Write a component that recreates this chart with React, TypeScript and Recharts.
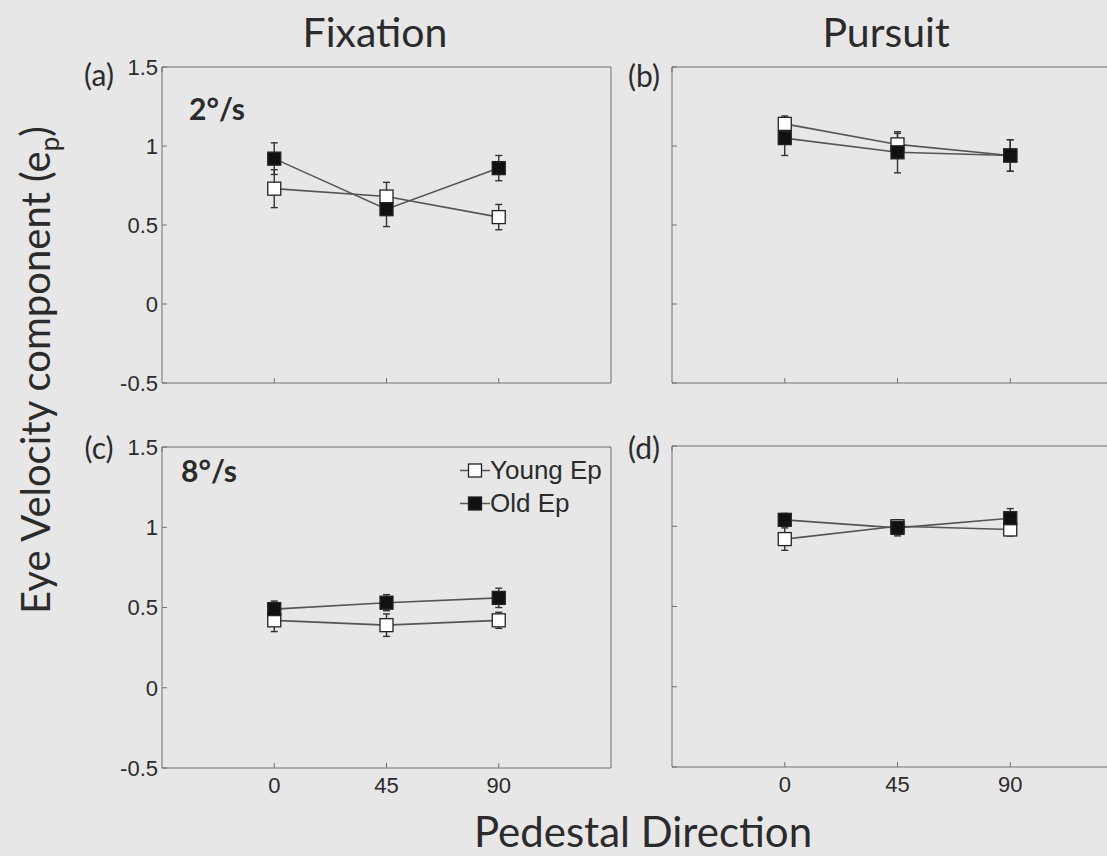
import React from 'react';
import { LineChart, Line, XAxis, YAxis, ErrorBar, Legend } from 'recharts';

// ---- data ----
const directions = [0, 45, 90];
const xTicks = [0, 45, 90];
const yTicks = [-0.5, 0, 0.5, 1, 1.5];
const seriesNames = ['Young Ep', 'Old Ep'];

// (a) Fixation, 2°/s
const fix2Young = [0.73, 0.68, 0.55];
const fix2YoungErr = [0.12, 0.09, 0.08];
const fix2Old = [0.92, 0.6, 0.86];
const fix2OldErr = [0.1, 0.11, 0.08];

// (b) Pursuit, 2°/s
const pur2Young = [1.14, 1.01, 0.94];
const pur2YoungErr = [0.05, 0.07, 0.1];
const pur2Old = [1.05, 0.96, 0.94];
const pur2OldErr = [0.11, 0.13, 0.1];

// (c) Fixation, 8°/s
const fix8Young = [0.42, 0.39, 0.42];
const fix8YoungErr = [0.07, 0.07, 0.05];
const fix8Old = [0.49, 0.53, 0.56];
const fix8OldErr = [0.05, 0.05, 0.06];

// (d) Pursuit, 8°/s
const pur8Young = [0.92, 1.0, 0.98];
const pur8YoungErr = [0.07, 0.04, 0.04];
const pur8Old = [1.04, 0.99, 1.05];
const pur8OldErr = [0.04, 0.05, 0.06];

// ---- style ----
const BG = '#e7e7e7';
const AXIS = '#707070';
const TEXT = '#2b2b2b';
const LINE = '#555555';
const ARIAL = '"Liberation Sans", Arial, sans-serif';
const TITLE_FONT = 'Lato, "Open Sans", sans-serif';
const markerFill: Record<string, string> = { 'Young Ep': '#ffffff', 'Old Ep': '#111111' };

type Row = { dir: number; young: number; youngErr: number; old: number; oldErr: number };

function buildRows(y: number[], ye: number[], o: number[], oe: number[]): Row[] {
  return directions.map((d, i) => ({ dir: d, young: y[i], youngErr: ye[i], old: o[i], oldErr: oe[i] }));
}

const makeSquare = (fill: string) => (p: any) => {
  if (p.cx == null || p.cy == null) return <g key={`n-${fill}-${p.index}`} />;
  return (
    <rect
      key={`s-${fill}-${p.index}`}
      x={p.cx - 6.5}
      y={p.cy - 6.5}
      width={13}
      height={13}
      fill={fill}
      stroke="#222"
      strokeWidth={1.3}
    />
  );
};

function LegendContent(props: any) {
  const items = [...(props.payload || [])].sort(
    (a: any, b: any) => seriesNames.indexOf(a.value) - seriesNames.indexOf(b.value)
  );
  return (
    <div>
      {items.map((it: any) => (
        <div key={it.value} style={{ display: 'flex', alignItems: 'center', height: 33 }}>
          <svg width={30} height={33}>
            <line x1={0} x2={30} y1={16.5} y2={16.5} stroke={LINE} strokeWidth={1.5} />
            <rect x={8.5} y={10} width={13} height={13} fill={markerFill[it.value]} stroke="#222" strokeWidth={1.3} />
          </svg>
          <span style={{ fontFamily: ARIAL, fontSize: 26, color: TEXT, lineHeight: '33px' }}>{it.value}</span>
        </div>
      ))}
    </div>
  );
}

type PanelProps = {
  left: number;
  top: number;
  plotW: number;
  plotH: number;
  rows: Row[];
  showY: boolean;
  showX: boolean;
  legend?: boolean;
};

const M_TOP = 20;
const M_RIGHT = 10;
const Y_W = 60;
const X_H = 34;

// left/top are the page coordinates of the plot area's top-left corner
function Panel({ left, top, plotW, plotH, rows, showY, showX, legend }: PanelProps) {
  const width = Y_W + plotW + 1 + M_RIGHT;
  const height = M_TOP + 1 + plotH + X_H;
  const tickStyle = { fill: TEXT, fontSize: 22, fontFamily: ARIAL };
  const blank = () => '';
  return (
    <div style={{ position: 'absolute', left: left - Y_W, top: top - M_TOP - 1 }}>
      <LineChart width={width} height={height} data={rows} margin={{ top: M_TOP, right: M_RIGHT, bottom: 0, left: 0 }}>
        <XAxis
          xAxisId="b"
          dataKey="dir"
          type="number"
          domain={[-45, 135]}
          ticks={xTicks}
          interval={0}
          height={X_H}
          tickSize={-5}
          tickMargin={14}
          stroke={AXIS}
          tick={tickStyle}
          tickFormatter={showX ? (v: number) => String(v) : blank}
        />
        <XAxis
          xAxisId="t"
          orientation="top"
          type="number"
          domain={[-45, 135]}
          ticks={xTicks}
          interval={0}
          height={1}
          tickSize={-5}
          stroke={AXIS}
          tick={tickStyle}
          tickFormatter={blank}
        />
        <YAxis
          yAxisId="l"
          type="number"
          domain={[-0.5, 1.5]}
          ticks={yTicks}
          interval={0}
          width={Y_W}
          tickSize={-5}
          tickMargin={9}
          stroke={AXIS}
          tick={tickStyle}
          tickFormatter={showY ? (v: number) => String(v) : blank}
        />
        <YAxis
          yAxisId="r"
          orientation="right"
          type="number"
          domain={[-0.5, 1.5]}
          ticks={yTicks}
          interval={0}
          width={1}
          tickSize={-5}
          stroke={AXIS}
          tick={tickStyle}
          tickFormatter={blank}
        />
        <Line
          xAxisId="b"
          yAxisId="l"
          dataKey="young"
          name={seriesNames[0]}
          stroke={LINE}
          strokeWidth={1.6}
          dot={makeSquare(markerFill[seriesNames[0]])}
          activeDot={false}
          isAnimationActive={false}
        >
          <ErrorBar dataKey="youngErr" direction="y" width={3.5} stroke="#333" strokeWidth={1.4} />
        </Line>
        <Line
          xAxisId="b"
          yAxisId="l"
          dataKey="old"
          name={seriesNames[1]}
          stroke={LINE}
          strokeWidth={1.6}
          dot={makeSquare(markerFill[seriesNames[1]])}
          activeDot={false}
          isAnimationActive={false}
        >
          <ErrorBar dataKey="oldErr" direction="y" width={3.5} stroke="#333" strokeWidth={1.4} />
        </Line>
        {legend ? (
          <Legend
            layout="vertical"
            align="center"
            verticalAlign="middle"
            content={<LegendContent />}
            wrapperStyle={{ position: 'absolute', left: 358, top: 28, width: 180, height: 70 }}
          />
        ) : null}
      </LineChart>
    </div>
  );
}

const labelStyle = (x: number, y: number, size: number, bold = false): React.CSSProperties => ({
  position: 'absolute',
  left: x,
  top: y,
  transform: 'translate(-50%, -50%)',
  fontFamily: TITLE_FONT,
  fontSize: size,
  fontWeight: bold ? 700 : 400,
  color: TEXT,
  lineHeight: 1,
  whiteSpace: 'nowrap',
});

export default function App() {
  return (
    <div
      style={{
        position: 'absolute',
        left: 0,
        top: 0,
        width: 1107,
        height: 856,
        overflow: 'hidden',
        background: BG,
      }}
    >
      <Panel left={162} top={67} plotW={449} plotH={316} rows={buildRows(fix2Young, fix2YoungErr, fix2Old, fix2OldErr)} showY showX={false} />
      <Panel left={672} top={67} plotW={451} plotH={316} rows={buildRows(pur2Young, pur2YoungErr, pur2Old, pur2OldErr)} showY={false} showX={false} />
      <Panel left={162} top={447} plotW={449} plotH={321} rows={buildRows(fix8Young, fix8YoungErr, fix8Old, fix8OldErr)} showY showX legend />
      <Panel left={672} top={446} plotW={451} plotH={321} rows={buildRows(pur8Young, pur8YoungErr, pur8Old, pur8OldErr)} showY={false} showX />

      <div style={labelStyle(375, 31, 41)}>Fixation</div>
      <div style={labelStyle(886, 31, 41)}>Pursuit</div>
      <div style={labelStyle(643, 831, 42)}>Pedestal Direction</div>
      <div style={{ ...labelStyle(38, 370, 40), transform: 'translate(-50%, -50%) rotate(-90deg)' }}>
        Eye Velocity component (e<sub style={{ fontSize: 26 }}>p</sub>)
      </div>

      <div style={labelStyle(99, 74, 30)}>(a)</div>
      <div style={labelStyle(644, 75, 30)}>(b)</div>
      <div style={labelStyle(99, 447, 30)}>(c)</div>
      <div style={labelStyle(644, 447, 30)}>(d)</div>

      <div style={{ ...labelStyle(217, 108, 30, true) }}>2°/s</div>
      <div style={{ ...labelStyle(209, 470, 30, true) }}>8°/s</div>
    </div>
  );
}
